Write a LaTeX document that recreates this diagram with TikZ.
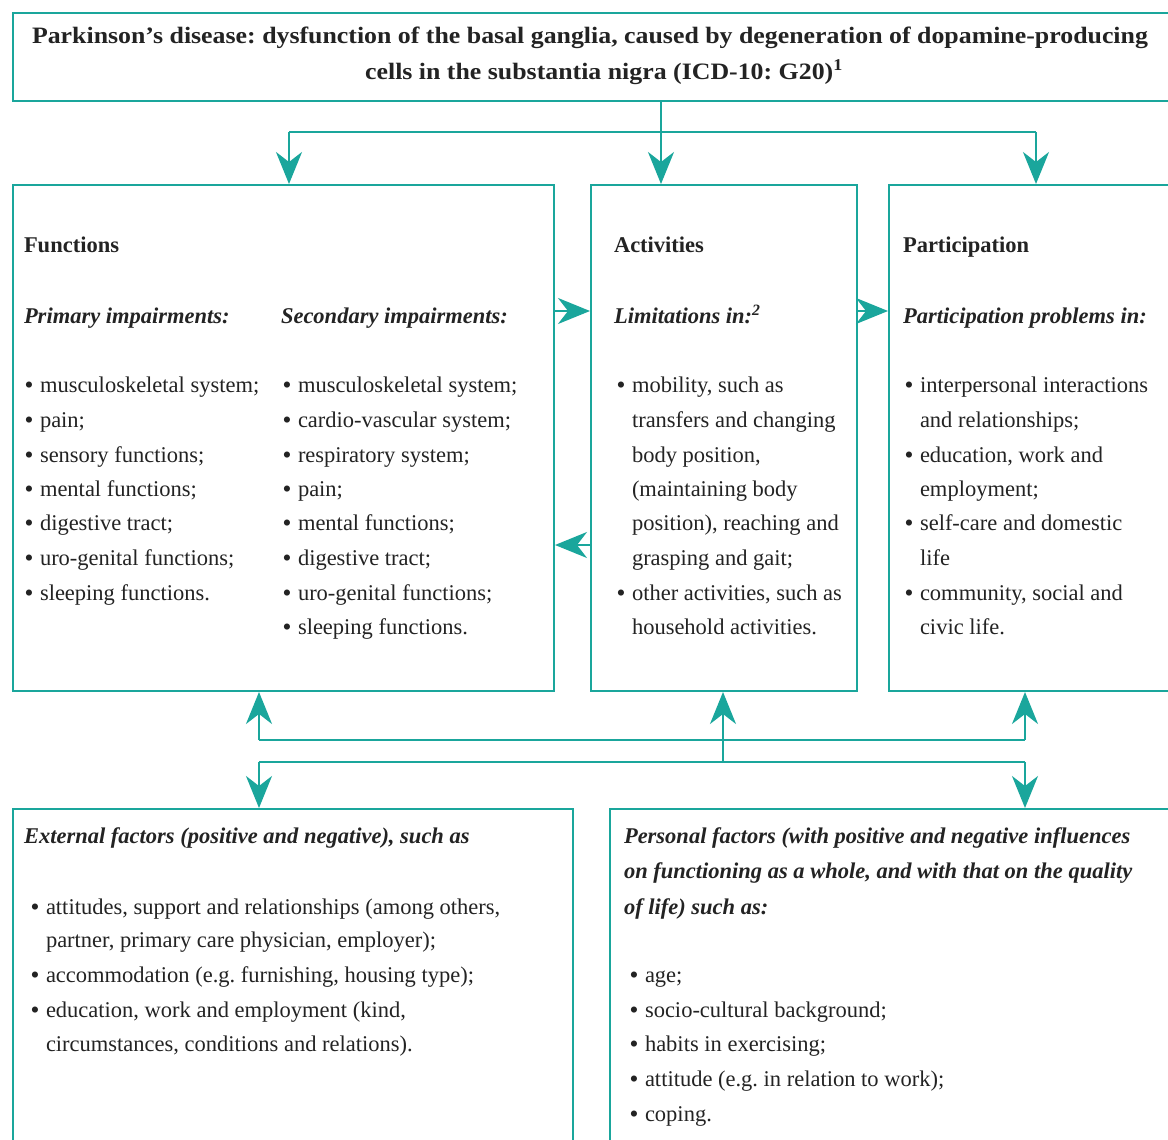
\documentclass[tikz,border=0pt]{standalone}
\usepackage{fontspec}
\setmainfont{Liberation Serif}
\newfontfamily\ttlfont[FakeStretch=1.1]{Liberation Serif}
\usetikzlibrary{arrows.meta}
\definecolor{tealc}{RGB}{26,166,156}
\definecolor{textc}{RGB}{35,35,35}
\tikzset{
  box/.style={draw=tealc, line width=2pt, anchor=north west, inner sep=0pt, fill=none},
  txt/.style={anchor=base west, inner sep=0pt, outer sep=0pt, text=textc, font=\fontsize{22.5}{26}\selectfont\frenchspacing},
  hd/.style={txt, font=\fontsize{22.5}{26}\selectfont\bfseries},
  sh/.style={txt, font=\fontsize{22.5}{26}\selectfont\frenchspacing\bfseries\itshape},
  ttl/.style={anchor=base, inner sep=0pt, text=textc, font=\ttlfont\fontsize{23.5}{26}\selectfont\frenchspacing\bfseries},
  ln/.style={draw=tealc, line width=2pt},
  arr/.style={ln, -{Stealth[length=32pt, width=26pt, inset=10pt]}},
}
% bullet item line: name, bullet x, y(baseline), text
\newcommand\bitem[4]{%
  \node[txt] (#1b) at (#2,#3) {\bfseries •};
  \node[txt] (#1) at (#2+15,#3) {#4};}
\newcommand\contline[4]{\node[txt] (#1) at (#2,#3) {#4};}
\begin{document}
\begin{tikzpicture}[x=1pt, y=-1pt]
\useasboundingbox (0,0) rectangle (1168,1140);
\clip (0,0) rectangle (1168,1140);
\fill[white] (0,0) rectangle (1168,1140);

% boxes
\node[box, minimum width=1160pt, minimum height=88pt] (title) at (12,12) {};
\node[box, minimum width=541pt, minimum height=506pt] (func) at (12,184) {};
\node[box, minimum width=266pt, minimum height=506pt] (act) at (590,184) {};
\node[box, minimum width=290pt, minimum height=506pt] (part) at (888,184) {};
\node[box, minimum width=560pt, minimum height=345pt] (ext) at (12,808) {};
\node[box, minimum width=570pt, minimum height=345pt] (pers) at (609,808) {};

% title text
\node[ttl] (t1) at (590,44) {Parkinson’s disease: dysfunction of the basal ganglia, caused by degeneration of dopamine-producing};
\node[ttl] (t2) at (604,80) {cells in the substantia nigra (ICD-10: G20)\textsuperscript{1}};

% Functions
\node[hd] (fh) at (24,252) {Functions};
\node[sh] (fp) at (24,323) {Primary impairments:};
\node[sh] (fs) at (281,323) {Secondary impairments:};
\bitem{f1}{25}{392}{musculoskeletal system;}
\bitem{f2}{25}{427}{pain;}
\bitem{f3}{25}{462}{sensory functions;}
\bitem{f4}{25}{496}{mental functions;}
\bitem{f5}{25}{530}{digestive tract;}
\bitem{f6}{25}{565}{uro-genital functions;}
\bitem{f7}{25}{600}{sleeping functions.}
\bitem{s1}{283}{392}{musculoskeletal system;}
\bitem{s2}{283}{427}{cardio-vascular system;}
\bitem{s3}{283}{462}{respiratory system;}
\bitem{s4}{283}{496}{pain;}
\bitem{s5}{283}{530}{mental functions;}
\bitem{s6}{283}{565}{digestive tract;}
\bitem{s7}{283}{600}{uro-genital functions;}
\bitem{s8}{283}{634}{sleeping functions.}

% Activities
\node[hd] (ah) at (614,252) {Activities};
\node[sh] (al) at (614,323) {Limitations in:\textsuperscript{2}};
\bitem{a1}{617}{392}{mobility, such as}
\contline{a2}{632}{427}{transfers and changing}
\contline{a3}{632}{462}{body position,}
\contline{a4}{632}{496}{(maintaining body}
\contline{a5}{632}{530}{position), reaching and}
\contline{a6}{632}{565}{grasping and gait;}
\bitem{a7}{617}{600}{other activities, such as}
\contline{a8}{632}{634}{household activities.}

% Participation
\node[hd] (ph) at (903,252) {Participation};
\node[sh] (pp) at (903,323) {Participation problems in:};
\bitem{p1}{905}{392}{interpersonal interactions}
\contline{p2}{920}{427}{and relationships;}
\bitem{p3}{905}{462}{education, work and}
\contline{p4}{920}{496}{employment;}
\bitem{p5}{905}{530}{self-care and domestic}
\contline{p6}{920}{565}{life}
\bitem{p7}{905}{600}{community, social and}
\contline{p8}{920}{634}{civic life.}

% External factors
\node[sh] (eh) at (24,843) {External factors (positive and negative), such as};
\bitem{e1}{31}{914}{attitudes, support and relationships (among others,}
\contline{e2}{46}{947}{partner, primary care physician, employer);}
\bitem{e3}{31}{982}{accommodation (e.g. furnishing, housing type);}
\bitem{e4}{31}{1017}{education, work and employment (kind,}
\contline{e5}{46}{1051}{circumstances, conditions and relations).}

% Personal factors
\node[sh] (rh1) at (624,843) {Personal factors (with positive and negative influences};
\node[sh] (rh2) at (624,878) {on functioning as a whole, and with that on the quality};
\node[sh] (rh3) at (624,914) {of life) such as:};
\bitem{r1}{630}{982}{age;}
\bitem{r2}{630}{1017}{socio-cultural background;}
\bitem{r3}{630}{1051}{habits in exercising;}
\bitem{r4}{630}{1086}{attitude (e.g. in relation to work);}
\bitem{r5}{630}{1121}{coping.}

% top connectors
\coordinate (tj) at (661,132);
\coordinate (tl) at (289,132);
\coordinate (tr) at (1036,132);
\draw[ln] (title.south -| tj) -- (tj);
\draw[ln] (tl) -- (tr);
\draw[arr] (tl) -- (tl |- func.north);
\draw[arr] (tj) -- (tj |- act.north);
\draw[arr] (tr) -- (tr |- part.north);

% side connectors
\coordinate (r1) at (0,311);
\coordinate (r2) at (0,545);
\draw[arr] (func.east |- r1) -- (act.west |- r1);
\draw[arr] (act.east |- r1) -- (part.west |- r1);
\draw[arr] (act.west |- r2) -- (func.east |- r2);

% bottom connectors
\coordinate (ul) at (259,740);
\coordinate (ur) at (1025,740);
\coordinate (ll) at (259,762);
\coordinate (lr) at (1025,762);
\coordinate (mj) at (723,762);
\draw[ln] (ul) -- (ur);
\draw[ln] (ll) -- (lr);
\draw[arr] (ul) -- (ul |- func.south);
\draw[arr] (ur) -- (ur |- part.south);
\draw[arr] (mj) -- (mj |- act.south);
\draw[arr] (ll) -- (ll |- ext.north);
\draw[arr] (lr) -- (lr |- pers.north);
\end{tikzpicture}
\end{document}
